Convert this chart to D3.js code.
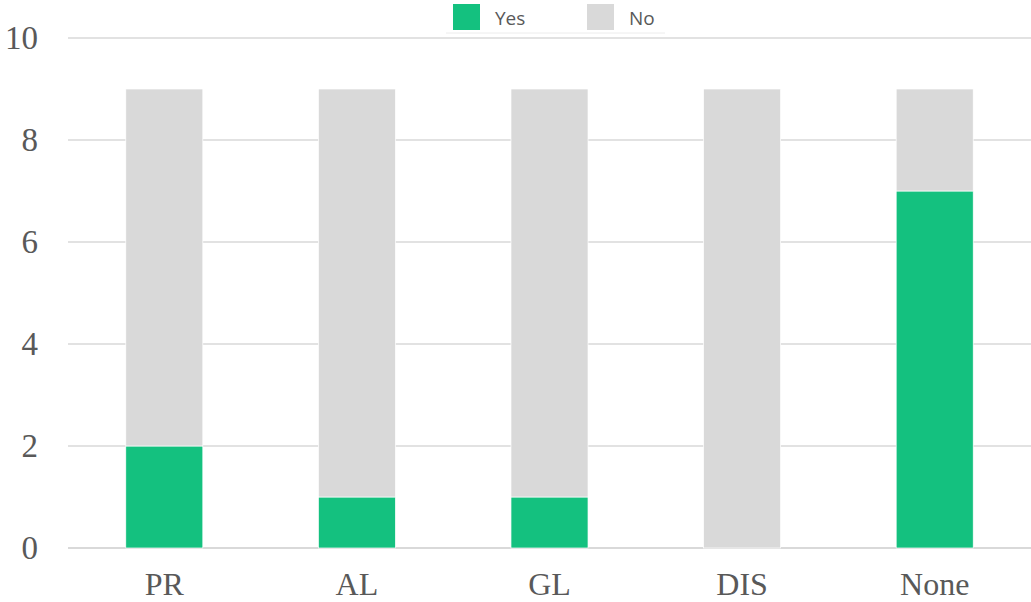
<!DOCTYPE html>
<html>
<head>
<meta charset="utf-8">
<script src="https://cdn.jsdelivr.net/npm/d3@7"></script>
<style>
  body { margin: 0; background: #fff; }
  svg { display: block; }
</style>
</head>
<body>
<svg id="chart" width="1031" height="602"></svg>
<script>
const categories = ["PR", "AL", "GL", "DIS", "None"]
const yesValues = [2, 1, 1, 0, 7]
const noValues = [7, 8, 8, 9, 2]
const seriesNames = ["Yes", "No"]
const yTicks = [0, 2, 4, 6, 8, 10]

const colors = { Yes: "#14c17f", No: "#d9d9d9" }

const svg = d3.select("#chart")

const x = d3.scaleBand()
    .domain(categories)
    .range([68, 1031])
    .paddingInner(0.6)
    .paddingOuter(0.3)

const y = d3.scaleLinear()
    .domain([0, 10])
    .range([548, 38])

const rows = categories.map(function(c, i){
    return { cat: c, Yes: yesValues[i], No: noValues[i] }
})
const stacked = d3.stack().keys(seriesNames)(rows)

// gridlines
svg.append("g")
    .selectAll("line")
    .data(yTicks)
    .join("line")
    .attr("x1", 68)
    .attr("x2", 1031)
    .attr("y1", d => y(d))
    .attr("y2", d => y(d))
    .attr("stroke", "#d9d9d9")
    .attr("stroke-width", d => d === 0 ? 2 : 1.5)

// y labels
svg.append("g")
    .selectAll("text")
    .data(yTicks)
    .join("text")
    .attr("x", 38)
    .attr("y", d => y(d))
    .attr("dy", "0.34em")
    .attr("text-anchor", "end")
    .attr("font-family", "'Liberation Serif', serif")
    .attr("font-size", 33)
    .attr("fill", "#595959")
    .text(d => d)

// bars
svg.append("g")
    .selectAll("g")
    .data(stacked)
    .join("g")
    .attr("fill", d => colors[d.key])
    .selectAll("rect")
    .data(d => d.filter(s => s[1] > s[0]))
    .join("rect")
    .attr("x", d => x(d.data.cat))
    .attr("width", x.bandwidth())
    .attr("y", d => y(d[1]))
    .attr("height", d => y(d[0]) - y(d[1]))
    .attr("stroke", "#fff")
    .attr("stroke-width", 0.7)

// x labels
svg.append("g")
    .selectAll("text")
    .data(categories)
    .join("text")
    .attr("x", d => x(d) + x.bandwidth() / 2)
    .attr("y", 595)
    .attr("text-anchor", "middle")
    .attr("font-family", "'Liberation Serif', serif")
    .attr("font-size", 32)
    .attr("fill", "#595959")
    .text(d => d)

// legend
const legend = svg.append("g")
legend.append("rect")
    .attr("x", 446).attr("y", 0)
    .attr("width", 219).attr("height", 33)
    .attr("fill", "#fff")
legend.append("line")
    .attr("x1", 446).attr("x2", 665)
    .attr("y1", 33).attr("y2", 33)
    .attr("stroke", "#ececec")
const legendX = [453, 587]
const items = legend.selectAll("g.item")
    .data(seriesNames)
    .join("g")
    .attr("class", "item")
    .attr("transform", (d, i) => `translate(${legendX[i]},0)`)
items.append("rect")
    .attr("x", 0).attr("y", 4)
    .attr("width", 27).attr("height", 26)
    .attr("fill", d => colors[d])
items.append("text")
    .attr("x", 42)
    .attr("y", 25)
    .attr("font-family", "'Open Sans', sans-serif")
    .attr("font-size", 19)
    .attr("fill", "#595959")
    .text(d => d)
</script>
</body>
</html>
